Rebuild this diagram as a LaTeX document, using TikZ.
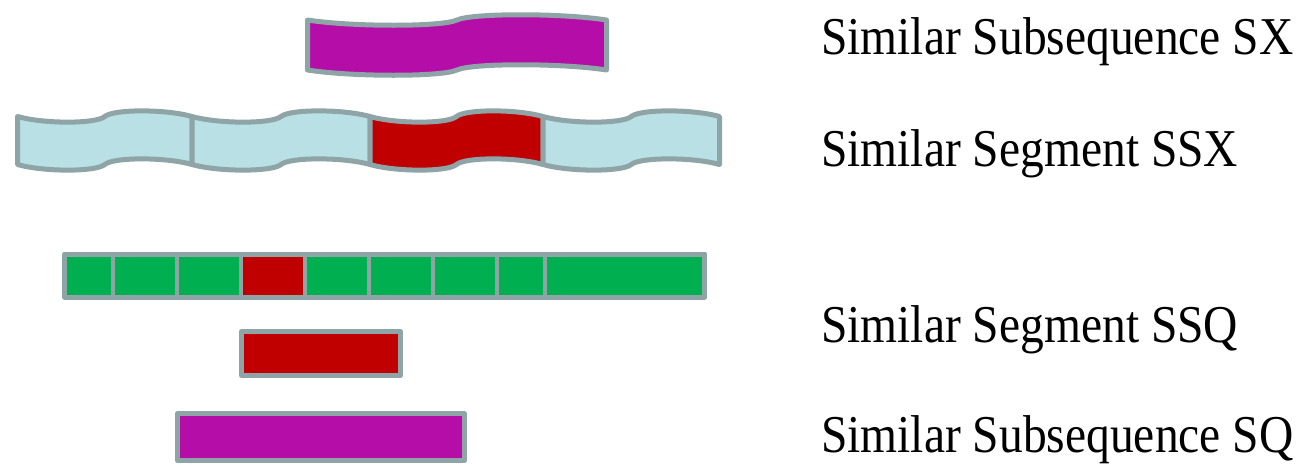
\documentclass[tikz,border=0pt]{standalone}
\usepackage{fontspec}
\setmainfont{Liberation Serif}
\usepackage{graphicx}
\definecolor{edgegray}{RGB}{142,164,166}
\definecolor{lightcyan}{RGB}{185,224,228}
\definecolor{magentafill}{RGB}{181,14,168}
\definecolor{redfill}{RGB}{192,0,0}
\definecolor{greenfill}{RGB}{0,176,80}
\tikzset{
  shapeline/.style={draw=edgegray, line width=5pt, line join=round},
  cellline/.style={draw=edgegray, line width=4pt, line join=round},
  label/.style={anchor=base west, inner sep=0pt, font=\fontsize{47.5}{57}\selectfont},
}
\newcommand{\ribbon}[6]{%
  \pgfmathsetmacro\rL{#1}\pgfmathsetmacro\rR{#2}%
  \pgfmathsetmacro\rW{#2-#1}\pgfmathsetmacro\rM{(#1+#2)/2}%
  \pgfmathsetmacro\rT{#3}\pgfmathsetmacro\rB{#3+#4}%
  \pgfmathsetmacro\rA{#5}%
  \filldraw[shapeline, fill=#6]
    (\rL,\rT) .. controls ({\rL+0.15*\rW},{\rT+\rA}) and ({\rM-0.05*\rW},{\rT+\rA}) .. (\rM,\rT)
    .. controls ({\rM+0.05*\rW},{\rT-\rA}) and ({\rR-0.15*\rW},{\rT-\rA}) .. (\rR,\rT)
    -- (\rR,\rB)
    .. controls ({\rR-0.15*\rW},{\rB-\rA}) and ({\rM+0.05*\rW},{\rB-\rA}) .. (\rM,\rB)
    .. controls ({\rM-0.05*\rW},{\rB+\rA}) and ({\rL+0.15*\rW},{\rB+\rA}) .. (\rL,\rB)
    -- cycle;
}
\begin{document}
\begin{tikzpicture}[x=1pt, y=-1pt]
\useasboundingbox (0,0) rectangle (1311,464);
% top ribbon SX
\ribbon{307.5}{606.5}{20}{50}{7}{magentafill}
% segment ribbon row
\ribbon{17.5}{192}{116.5}{48}{7.5}{lightcyan}
\ribbon{192}{370}{116.5}{48}{7.5}{lightcyan}
\ribbon{370}{543}{116.5}{48}{7.5}{redfill}
\ribbon{543}{719.5}{116.5}{48}{7.5}{lightcyan}
% green bar
\foreach \a/\b/\c in {64.5/113/greenfill,113/177/greenfill,177/241/greenfill,241/305/redfill,305/369/greenfill,369/433/greenfill,433/497/greenfill,497/545/greenfill,545/704.5/greenfill}{
  \filldraw[cellline, fill=\c] (\a,254) rectangle (\b,297);
}
\draw[shapeline] (64.5,254) rectangle (704.5,297);
% SSQ and SQ
\filldraw[shapeline, fill=redfill] (241.5,331.5) rectangle (400.5,375.5);
\filldraw[shapeline, fill=magentafill] (177.5,413.5) rectangle (464.5,460.5);
% labels
\node[label] (lsx) at (821,54) {\scalebox{1}[1.12]{Similar Subsequence SX}};
\node[label] (lssx) at (821,166.5) {\scalebox{1}[1.12]{Similar Segment SSX}};
\node[label] (lssq) at (821,342.5) {\scalebox{1}[1.12]{Similar Segment SSQ}};
\node[label] (lsq) at (821,452) {\scalebox{1}[1.12]{Similar Subsequence SQ}};
\end{tikzpicture}
\end{document}
